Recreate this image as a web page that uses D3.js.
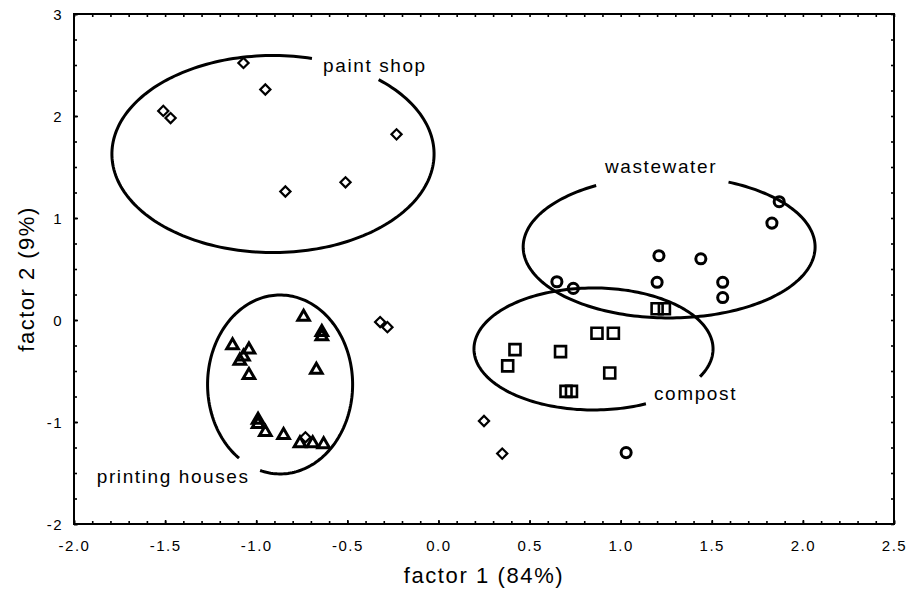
<!DOCTYPE html>
<html>
<head>
<meta charset="utf-8">
<script src="https://cdn.jsdelivr.net/npm/d3@7"></script>
<style>
  body { margin: 0; background: #fff; }
  svg { display: block; font-family: "Liberation Sans", Arial, sans-serif; }
</style>
</head>
<body>
<div id="chart"></div>
<script>
// factor scores
var paintShop = [[-1.07, 2.52], [-0.95, 2.26], [-1.51, 2.05], [-1.47, 1.98], [-0.23, 1.82],
  [-0.51, 1.35], [-0.84, 1.26], [-0.32, -0.02], [-0.28, -0.07], [0.25, -0.99], [0.35, -1.31], [-0.73, -1.15]]
var printingHouses = [[-0.74, 0.03], [-0.64, -0.12], [-0.64, -0.16], [-1.13, -0.25], [-1.04, -0.29],
  [-1.07, -0.36], [-1.09, -0.40], [-1.04, -0.54], [-0.67, -0.49], [-0.99, -0.98], [-0.99, -1.02],
  [-0.95, -1.10], [-0.85, -1.13], [-0.76, -1.21], [-0.69, -1.21], [-0.63, -1.22]]
var wastewater = [[1.21, 0.63], [1.44, 0.60], [0.65, 0.375], [0.74, 0.31], [1.20, 0.37], [1.56, 0.37],
  [1.56, 0.22], [1.03, -1.30], [1.87, 1.16], [1.83, 0.95]]
var compost = [[0.87, -0.13], [0.96, -0.13], [0.42, -0.29], [0.38, -0.45], [0.67, -0.31], [0.94, -0.52],
  [0.70, -0.70], [0.73, -0.70], [1.20, 0.11], [1.24, 0.11]]

// group ellipses: centre, radii (data units), gap for the label (parametric angle, degrees)
var groupNames = ["paint shop", "wastewater", "compost", "printing houses"]
var ellipseCx = [-0.908, 1.266, 0.851, -0.869]
var ellipseCy = [1.627, 0.716, -0.284, -0.632]
var ellipseRx = [0.884, 0.801, 0.656, 0.398]
var ellipseRy = [0.966, 0.696, 0.598, 0.877]
var gapFrom = [49, 66, -64, -124.5]
var gapTo = [76, 120, -27, -106]
// where each label starts (data units, baseline)
var labelX = [-0.633, 0.914, 1.183, -1.875]
var labelY = [2.43, 1.44, -0.785, -1.6]

var xTicks = [-2.0, -1.5, -1.0, -0.5, 0.0, 0.5, 1.0, 1.5, 2.0, 2.5]
var yTicks = [-2, -1, 0, 1, 2, 3]

var width = 906, height = 594

var svg = d3.select("#chart").append("svg")
  .attr("width", width)
  .attr("height", height)

var x = d3.scaleLinear().domain([-2, 2.5]).range([74, 894])
var y = d3.scaleLinear().domain([-2, 3]).range([524, 14])

var fmtX = function (d) { return d.toFixed(1) }
var fmtY = function (d) { return String(d) }

var minorX = d3.range(-20, 26).map(function (i) { return i / 10 })
var minorY = d3.range(-8, 13).map(function (i) { return i / 4 })

// minor ticks on all four sides, pointing inward
svg.append("g").attr("transform", "translate(0,524)")
  .call(d3.axisBottom(x).tickValues(minorX).tickSize(-3).tickFormat(""))
svg.append("g").attr("transform", "translate(0,14)")
  .call(d3.axisTop(x).tickValues(minorX).tickSize(-3).tickFormat(""))
svg.append("g").attr("transform", "translate(74,0)")
  .call(d3.axisLeft(y).tickValues(minorY).tickSize(-3).tickFormat(""))
svg.append("g").attr("transform", "translate(894,0)")
  .call(d3.axisRight(y).tickValues(minorY).tickSize(-3).tickFormat(""))

// labelled ticks
var xAxis = svg.append("g").attr("transform", "translate(0,524)")
  .call(d3.axisBottom(x).tickValues(xTicks).tickSize(-4).tickPadding(14).tickFormat(fmtX))
var yAxis = svg.append("g").attr("transform", "translate(74,0)")
  .call(d3.axisLeft(y).tickValues(yTicks).tickSize(-4).tickPadding(11).tickFormat(fmtY))

svg.selectAll(".domain").remove()
svg.selectAll(".tick line").attr("stroke", "#000").attr("stroke-width", 1.6)
svg.selectAll(".tick text")
  .attr("fill", "#000")
  .style("font-size", "15px")
  .style("letter-spacing", "1.5px")
  .style("font-family", "'Liberation Sans', Arial, sans-serif")
xAxis.selectAll(".tick text").attr("dy", "0.85em")
yAxis.selectAll(".tick text").attr("dy", "0.35em")

// frame
svg.append("rect")
  .attr("x", x(-2)).attr("y", y(3))
  .attr("width", x(2.5) - x(-2)).attr("height", y(-2) - y(3))
  .attr("fill", "none").attr("stroke", "#000").attr("stroke-width", 2)

// axis titles
svg.append("text")
  .attr("x", (x(-2) + x(2.5)) / 2)
  .attr("y", 583)
  .attr("text-anchor", "middle")
  .style("font-size", "22px")
  .style("letter-spacing", "1.6px")
  .text("factor 1 (84%)")

svg.append("text")
  .attr("transform", "translate(34," + ((y(-2) + y(3)) / 2 + 10) + ") rotate(-90)")
  .attr("text-anchor", "middle")
  .style("font-size", "22px")
  .style("letter-spacing", "1.5px")
  .text("factor 2 (9%)")

// ellipses with a gap where the label sits
var line = d3.line()
groupNames.forEach(function (name, i) {
  var rad = Math.PI / 180
  var t0 = gapTo[i] * rad, t1 = (gapFrom[i] + 360) * rad
  var pts = d3.range(0, 201).map(function (k) {
    var t = t0 + (t1 - t0) * k / 200
    return [x(ellipseCx[i] + ellipseRx[i] * Math.cos(t)), y(ellipseCy[i] + ellipseRy[i] * Math.sin(t))]
  })
  svg.append("path")
    .attr("d", line(pts))
    .attr("fill", "none")
    .attr("stroke", "#000")
    .attr("stroke-width", 3)

  svg.append("text")
    .attr("x", x(labelX[i]))
    .attr("y", y(labelY[i]))
    .style("font-size", "19px")
    .style("letter-spacing", "1.6px")
    .text(name)
})

// markers
function drawPoints(data, type, size, rotate, sw) {
  var sym = d3.symbol().type(type).size(size)
  svg.append("g").selectAll("path")
    .data(data)
    .enter()
    .append("path")
    .attr("d", sym)
    .attr("transform", function (d) {
      return "translate(" + x(d[0]) + "," + y(d[1]) + ") rotate(" + rotate + ")"
    })
    .attr("fill", "none")
    .attr("stroke", "#000")
    .attr("stroke-width", sw)
}

drawPoints(printingHouses, d3.symbolTriangle, 58, 0, 3)
drawPoints(compost, d3.symbolSquare, 121, 0, 2.6)
drawPoints(wastewater, d3.symbolCircle, 80, 0, 3)
drawPoints(paintShop, d3.symbolSquare, 52, 45, 2.2)
</script>
</body>
</html>
